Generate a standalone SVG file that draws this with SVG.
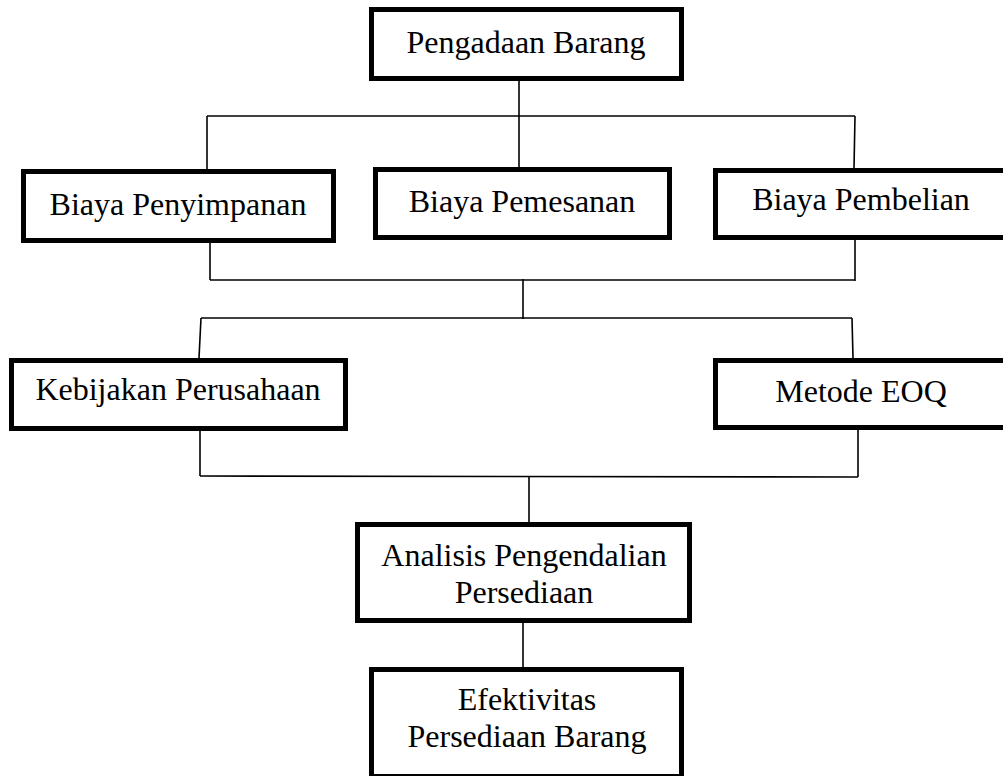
<svg xmlns="http://www.w3.org/2000/svg" width="1003" height="776" viewBox="0 0 1003 776">
<style>
.box{fill:#fff;stroke:#000;stroke-width:5}
.t{font-family:"Liberation Serif","Times New Roman",serif;font-size:32px;fill:#000;text-anchor:middle}
.c{stroke:#000;stroke-width:1.6;fill:none}
</style>
<rect width="1003" height="776" fill="#fff"/>
<g id="connectors">
<line class="c" x1="519" y1="81" x2="519" y2="167"/>
<line class="c" x1="207" y1="116" x2="855" y2="116"/>
<line class="c" x1="207" y1="116" x2="207" y2="169"/>
<line class="c" x1="855" y1="116" x2="854" y2="168"/>
<line class="c" x1="210" y1="243" x2="210" y2="280"/>
<line class="c" x1="210" y1="280" x2="855" y2="280"/>
<line class="c" x1="855" y1="240" x2="855" y2="281"/>
<line class="c" x1="523" y1="279" x2="523" y2="319"/>
<line class="c" x1="201" y1="318" x2="852" y2="318"/>
<line class="c" x1="201" y1="318" x2="199" y2="358"/>
<line class="c" x1="852" y1="318" x2="853" y2="358"/>
<line class="c" x1="200" y1="431" x2="200" y2="476"/>
<line class="c" x1="200" y1="476" x2="858" y2="477"/>
<line class="c" x1="858" y1="430" x2="858" y2="477"/>
<line class="c" x1="529" y1="477" x2="529" y2="522"/>
<line class="c" x1="523" y1="623" x2="523" y2="667"/>
</g>
<g id="pengadaan">
<rect class="box" x="371.5" y="9.5" width="310" height="69"/>
<text class="t" x="526" y="53">Pengadaan Barang</text>
</g>
<g id="penyimpanan">
<rect class="box" x="23.5" y="171.5" width="310" height="69"/>
<text class="t" x="178" y="215">Biaya Penyimpanan</text>
</g>
<g id="pemesanan">
<rect class="box" x="375.5" y="169.5" width="294" height="68"/>
<text class="t" x="522" y="212">Biaya Pemesanan</text>
</g>
<g id="pembelian">
<rect class="box" x="715.5" y="170.5" width="300" height="67"/>
<text class="t" x="861" y="210">Biaya Pembelian</text>
</g>
<g id="kebijakan">
<rect class="box" x="11.5" y="360.5" width="334" height="68"/>
<text class="t" x="178" y="400">Kebijakan Perusahaan</text>
</g>
<g id="eoq">
<rect class="box" x="715.5" y="360.5" width="300" height="67"/>
<text class="t" x="861" y="402">Metode EOQ</text>
</g>
<g id="analisis">
<rect class="box" x="357.5" y="524.5" width="332" height="96"/>
<text class="t" x="524" y="566">Analisis Pengendalian</text>
<text class="t" x="524" y="603">Persediaan</text>
</g>
<g id="efektivitas">
<rect class="box" x="371.5" y="669.5" width="310" height="107"/>
<text class="t" x="527" y="710">Efektivitas</text>
<text class="t" x="527" y="747">Persediaan Barang</text>
</g>
</svg>
